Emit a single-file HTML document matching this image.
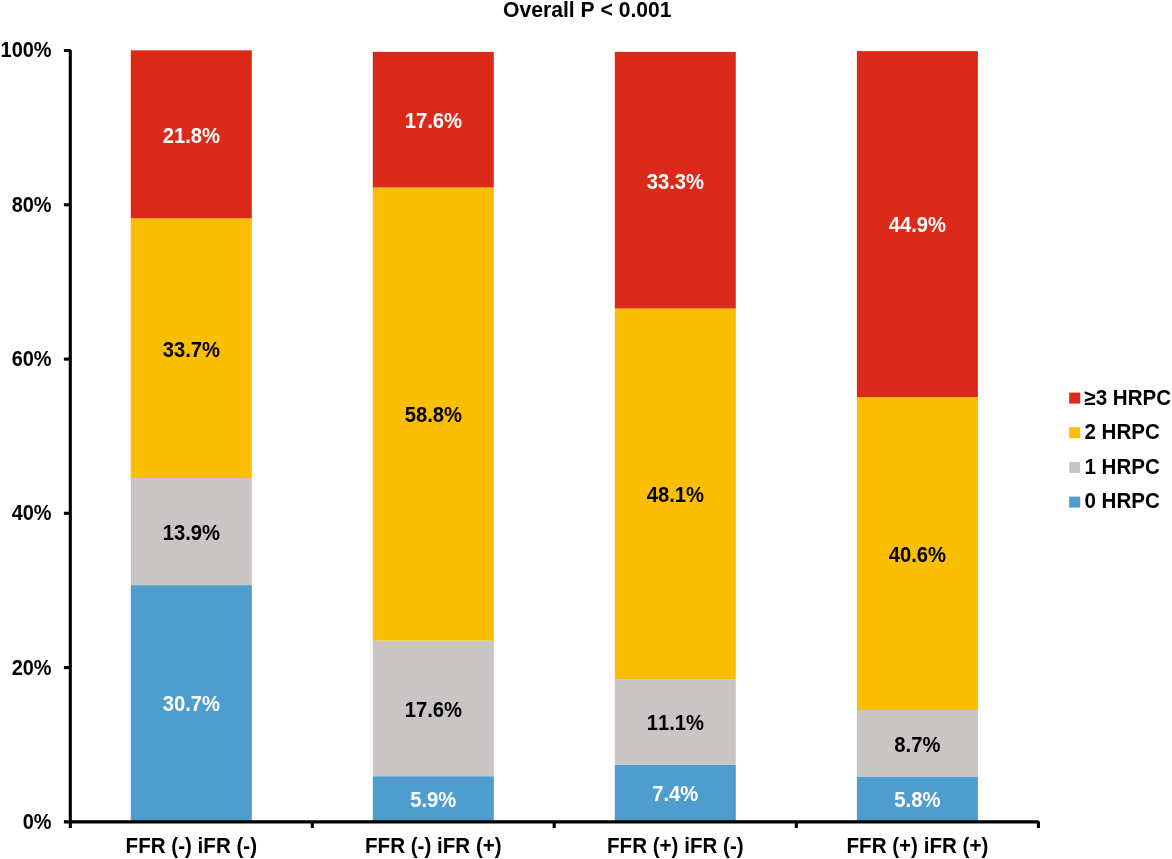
<!DOCTYPE html>
<html lang="en"><head><meta charset="utf-8"><title>Overall P &lt; 0.001</title>
<style>html,body{margin:0;padding:0;background:#fff}body{width:1172px;height:859px;overflow:hidden}svg{display:block}text{font-family:"Liberation Sans",Arial,Helvetica,sans-serif;font-weight:bold;font-kerning:none;font-size:20.8px;fill:#000}.w{fill:#fff}</style></head><body>
<svg width="1172" height="859" viewBox="0 0 1172 859">
<rect width="1172" height="859" fill="#fff"/>
<text x="587.3" y="16.9" text-anchor="middle" style="font-size:21.15px">Overall P &lt; 0.001</text>
<rect x="130.8" y="585.13" width="121" height="236.57" fill="#4f9dcf"/>
<text transform="translate(191.3,711.0) scale(0.972,1.08)" text-anchor="middle" class="w">30.7%</text>
<rect x="130.8" y="478.01" width="121" height="107.11" fill="#c9c5c4"/>
<text transform="translate(191.3,539.9) scale(0.972,1.08)" text-anchor="middle">13.9%</text>
<rect x="130.8" y="218.32" width="121" height="259.69" fill="#fabe03"/>
<text transform="translate(191.3,356.5) scale(0.972,1.08)" text-anchor="middle">33.7%</text>
<rect x="130.8" y="50.33" width="121" height="167.99" fill="#dc2a1a"/>
<text transform="translate(191.3,142.6) scale(0.972,1.08)" text-anchor="middle" class="w">21.8%</text>
<text transform="translate(191.3,852.9) scale(0.99,1.04)" text-anchor="middle">FFR (-) iFR (-)</text>
<rect x="372.8" y="776.23" width="121" height="45.47" fill="#4f9dcf"/>
<text transform="translate(433.3,806.6) scale(0.972,1.08)" text-anchor="middle" class="w">5.9%</text>
<rect x="372.8" y="640.61" width="121" height="135.63" fill="#c9c5c4"/>
<text transform="translate(433.3,716.7) scale(0.972,1.08)" text-anchor="middle">17.6%</text>
<rect x="372.8" y="187.50" width="121" height="453.11" fill="#fabe03"/>
<text transform="translate(433.3,422.4) scale(0.972,1.08)" text-anchor="middle">58.8%</text>
<rect x="372.8" y="51.87" width="121" height="135.63" fill="#dc2a1a"/>
<text transform="translate(433.3,128.0) scale(0.972,1.08)" text-anchor="middle" class="w">17.6%</text>
<text transform="translate(433.3,852.9) scale(0.99,1.04)" text-anchor="middle">FFR (-) iFR (+)</text>
<rect x="614.8" y="764.68" width="121" height="57.02" fill="#4f9dcf"/>
<text transform="translate(675.3,800.8) scale(0.972,1.08)" text-anchor="middle" class="w">7.4%</text>
<rect x="614.8" y="679.14" width="121" height="85.54" fill="#c9c5c4"/>
<text transform="translate(675.3,730.2) scale(0.972,1.08)" text-anchor="middle">11.1%</text>
<rect x="614.8" y="308.48" width="121" height="370.66" fill="#fabe03"/>
<text transform="translate(675.3,502.1) scale(0.972,1.08)" text-anchor="middle">48.1%</text>
<rect x="614.8" y="51.87" width="121" height="256.61" fill="#dc2a1a"/>
<text transform="translate(675.3,188.5) scale(0.972,1.08)" text-anchor="middle" class="w">33.3%</text>
<text transform="translate(675.3,852.9) scale(0.99,1.04)" text-anchor="middle">FFR (+) iFR (-)</text>
<rect x="856.9" y="777.01" width="121" height="44.69" fill="#4f9dcf"/>
<text transform="translate(917.4,807.0) scale(0.972,1.08)" text-anchor="middle" class="w">5.8%</text>
<rect x="856.9" y="709.96" width="121" height="67.04" fill="#c9c5c4"/>
<text transform="translate(917.4,751.8) scale(0.972,1.08)" text-anchor="middle">8.7%</text>
<rect x="856.9" y="397.10" width="121" height="312.86" fill="#fabe03"/>
<text transform="translate(917.4,561.8) scale(0.972,1.08)" text-anchor="middle">40.6%</text>
<rect x="856.9" y="51.10" width="121" height="346.00" fill="#dc2a1a"/>
<text transform="translate(917.4,232.4) scale(0.972,1.08)" text-anchor="middle" class="w">44.9%</text>
<text transform="translate(917.4,852.9) scale(0.99,1.04)" text-anchor="middle">FFR (+) iFR (+)</text>
<g stroke="#000" stroke-width="3.1" fill="none" stroke-linejoin="bevel">
<path d="M63.9 50.5H70.3V828"/>
<path d="M63.9 821.9H1038.45V828"/>
<path d="M63.9 667.6H70.3"/>
<path d="M63.9 513.3H70.3"/>
<path d="M63.9 359.1H70.3"/>
<path d="M63.9 204.8H70.3"/>
<path d="M312.3 821.8V828"/>
<path d="M554.2 821.8V828"/>
<path d="M796.3 821.8V828"/>
</g>
<text transform="translate(51.6,828.8) scale(0.96,1.05)" text-anchor="end">0%</text>
<text transform="translate(51.6,674.5) scale(0.96,1.05)" text-anchor="end">20%</text>
<text transform="translate(51.6,520.2) scale(0.96,1.05)" text-anchor="end">40%</text>
<text transform="translate(51.6,366.0) scale(0.96,1.05)" text-anchor="end">60%</text>
<text transform="translate(51.6,211.7) scale(0.96,1.05)" text-anchor="end">80%</text>
<text transform="translate(51.6,57.4) scale(0.96,1.05)" text-anchor="end">100%</text>
<rect x="1069.2" y="392.6" width="11" height="11" fill="#dc2a1a"/>
<text transform="translate(1084.4,404.9) scale(0.99,1.04)">≥3 HRPC</text>
<rect x="1069.2" y="427.2" width="11" height="11" fill="#fabe03"/>
<text transform="translate(1084.4,439.3) scale(0.99,1.04)">2 HRPC</text>
<rect x="1069.2" y="461.9" width="11" height="11" fill="#c9c5c4"/>
<text transform="translate(1084.4,473.7) scale(0.99,1.04)">1 HRPC</text>
<rect x="1069.2" y="496.6" width="11" height="11" fill="#4f9dcf"/>
<text transform="translate(1084.4,508.1) scale(0.99,1.04)">0 HRPC</text>
</svg></body></html>
